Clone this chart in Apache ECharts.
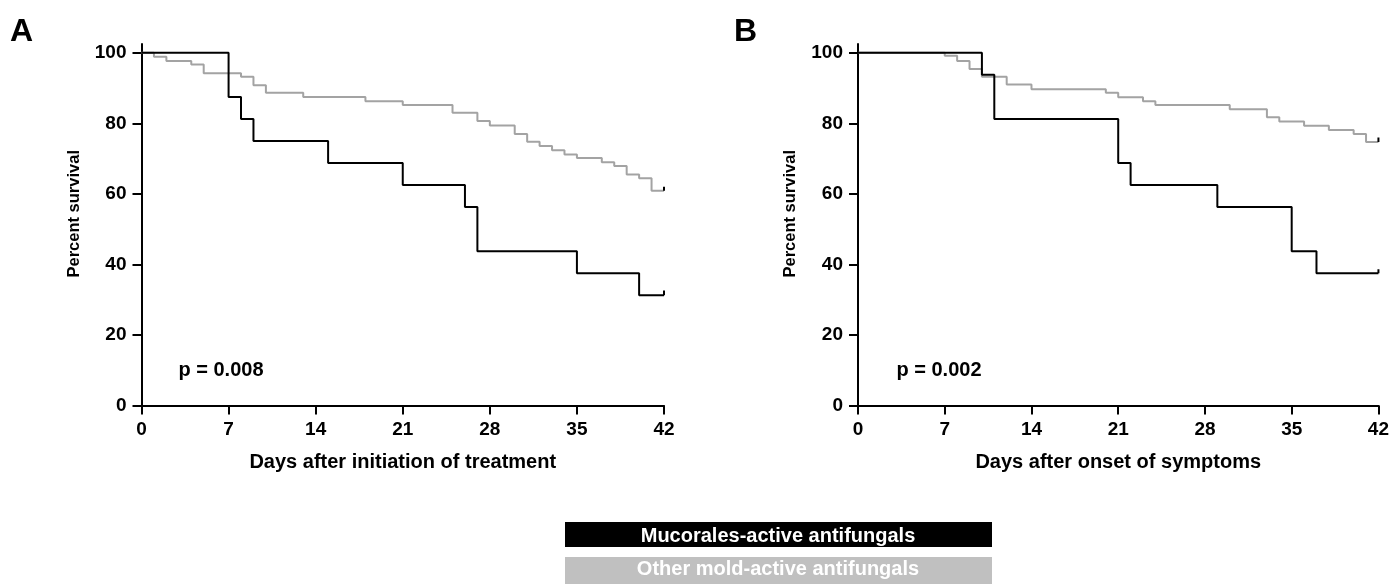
<!DOCTYPE html>
<html>
<head>
<meta charset="utf-8">
<script src="https://cdn.jsdelivr.net/npm/echarts@6/dist/echarts.min.js"></script>
<style>
html,body{margin:0;padding:0;background:#fff;}
#chart{width:1392px;height:584px;}
</style>
</head>
<body>
<div id="chart"></div>
<script>
// ---- data ----
var dayTicks = [0, 7, 14, 21, 28, 35, 42];
var pctTicks = [0, 20, 40, 60, 80, 100];
var seriesNames = ['Mucorales-active antifungals', 'Other mold-active antifungals'];
var panelLabels = ['A', 'B'];
var xTitles = ['Days after initiation of treatment', 'Days after onset of symptoms'];
var yTitle = 'Percent survival';
var pValues = ['p = 0.008', 'p = 0.002'];

// Panel A (days after initiation of treatment)
var A_mucor = [[0,100],[7,87.5],[8,81.25],[9,75],[15,68.75],[21,62.5],[26,56.25],[27,43.75],[35,37.5],[40,31.25],[42,31.25]];
var A_other = [[0,100],[1,98.9],[2,97.7],[4,96.7],[5,94.2],[8,93.2],[9,90.8],[10,88.7],[13,87.5],[18,86.3],[21,85.2],[25,83.0],[27,80.7],[28,79.4],[30,77.0],[31,74.8],[32,73.6],[33,72.4],[34,71.2],[35,70.2],[37,69.0],[38,67.9],[39,65.5],[40,64.4],[41,60.9],[42,60.9]];
var A_mucorCensor = [[42,31.25],[42,32.6]];
var A_otherCensor = [[42,60.9],[42,62.0]];

// Panel B (days after onset of symptoms)
var B_mucor = [[0,100],[10,93.75],[11,81.25],[21,68.75],[22,62.5],[29,56.25],[35,43.75],[37,37.5],[42,37.5]];
var B_other = [[0,100],[7,99.2],[8,97.7],[9,95.4],[10,93.2],[12,91.0],[14,89.7],[20,88.7],[21,87.4],[23,86.3],[24,85.2],[30,84.0],[33,81.7],[34,80.5],[36,79.3],[38,78.1],[40,77.0],[41,74.7],[42,74.7]];
var B_mucorCensor = [[42,37.5],[42,38.6]];
var B_otherCensor = [[42,74.7],[42,76.0]];

// ---- styles ----
var FONT = '"Liberation Sans", Arial, sans-serif';
var BLACK = '#000000';
var GREY = '#a3a3a3';
var LEGEND_GREY = '#c0c0c0';

var chart = echarts.init(document.getElementById('chart'), null, {renderer: 'canvas'});

var grids = [
  {left: 141.5, top: 44, width: 522.5, height: 361.5},
  {left: 858, top: 44, width: 522.7, height: 361.5}
];

function xAxis(i) {
  return {
    type: 'value', gridIndex: i, min: 0, max: 42, interval: 7,
    name: xTitles[i], nameLocation: 'middle', nameGap: 47,
    nameTextStyle: {fontFamily: FONT, fontWeight: 'bold', fontSize: 20, color: BLACK},
    axisLine: {show: true, onZero: false, lineStyle: {color: BLACK, width: 2}},
    axisTick: {show: true, inside: false, length: 9, lineStyle: {color: BLACK, width: 2}},
    axisLabel: {show: true, margin: 15, fontFamily: FONT, fontWeight: 'bold', fontSize: 19, color: BLACK, customValues: dayTicks},
    splitLine: {show: false}
  };
}
function yAxis(i) {
  return {
    type: 'value', gridIndex: i, min: 0, max: 102.5,
    name: yTitle, nameLocation: 'middle', nameGap: 59, nameRotate: 90,
    nameTextStyle: {fontFamily: FONT, fontWeight: 'bold', fontSize: 16.5, color: BLACK, padding: [0, 0, 0, 22]},
    axisLine: {show: true, onZero: false, lineStyle: {color: BLACK, width: 2}},
    axisTick: {show: true, inside: false, length: 9, lineStyle: {color: BLACK, width: 2}, customValues: pctTicks},
    axisLabel: {show: true, margin: 15, fontFamily: FONT, fontWeight: 'bold', fontSize: 19, color: BLACK, customValues: pctTicks},
    splitLine: {show: false}
  };
}

function stepSeries(name, data, i, color) {
  return {
    name: name, type: 'line', step: 'end', data: data,
    xAxisIndex: i, yAxisIndex: i, showSymbol: false, symbol: 'none',
    lineStyle: {color: color, width: 2}, itemStyle: {color: color},
    animation: false, silent: true, z: color === BLACK ? 3 : 2
  };
}
function censorSeries(data, i) {
  return {
    type: 'line', data: data, xAxisIndex: i, yAxisIndex: i, symbol: 'none',
    lineStyle: {color: BLACK, width: 2}, animation: false, silent: true, z: 4
  };
}

var option = {
  backgroundColor: '#ffffff',
  animation: false,
  grid: grids,
  xAxis: [xAxis(0), xAxis(1)],
  yAxis: [yAxis(0), yAxis(1)],
  series: [
    stepSeries(seriesNames[1], A_other, 0, GREY),
    stepSeries(seriesNames[0], A_mucor, 0, BLACK),
    censorSeries(A_otherCensor, 0),
    censorSeries(A_mucorCensor, 0),
    stepSeries(seriesNames[1], B_other, 1, GREY),
    stepSeries(seriesNames[0], B_mucor, 1, BLACK),
    censorSeries(B_otherCensor, 1),
    censorSeries(B_mucorCensor, 1)
  ],
  graphic: [
    {type: 'text', left: 10, top: 16, style: {text: panelLabels[0], font: 'bold 32px ' + FONT, fill: BLACK}},
    {type: 'text', left: 734, top: 16, style: {text: panelLabels[1], font: 'bold 32px ' + FONT, fill: BLACK}},
    {type: 'text', x: 221, y: 370, style: {text: pValues[0], font: 'bold 20px ' + FONT, fill: BLACK, align: 'center', verticalAlign: 'middle'}},
    {type: 'text', x: 939, y: 370, style: {text: pValues[1], font: 'bold 20px ' + FONT, fill: BLACK, align: 'center', verticalAlign: 'middle'}},
    {type: 'rect', shape: {x: 565, y: 522, width: 427, height: 25}, style: {fill: BLACK}},
    {type: 'text', x: 778, y: 536, style: {text: seriesNames[0], font: 'bold 20px ' + FONT, fill: '#ffffff', align: 'center', verticalAlign: 'middle'}},
    {type: 'rect', shape: {x: 565, y: 557, width: 427, height: 27}, style: {fill: LEGEND_GREY}},
    {type: 'text', x: 778, y: 569.5, style: {text: seriesNames[1], font: 'bold 20px ' + FONT, fill: '#ffffff', align: 'center', verticalAlign: 'middle'}}
  ]
};
chart.setOption(option);
</script>
</body>
</html>
